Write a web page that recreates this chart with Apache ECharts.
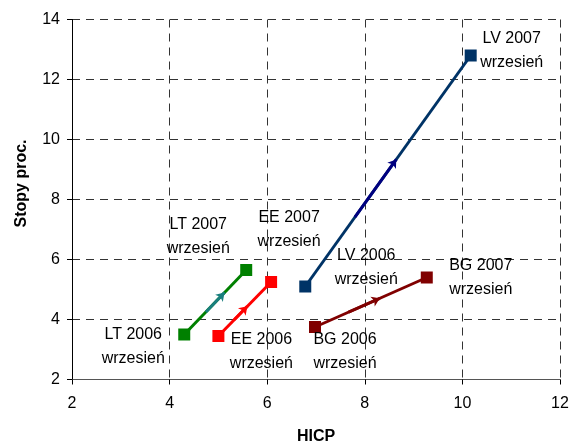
<!DOCTYPE html>
<html><head><meta charset="utf-8">
<script src="https://cdn.jsdelivr.net/npm/echarts@6/dist/echarts.min.js"></script>
<style>html,body{margin:0;padding:0;background:#fff}#c{width:569px;height:444px}</style>
</head><body><div id="c"></div>
<script>
// Data
const countries = ['LT', 'EE', 'LV', 'BG'];
const hicp2006 = [4.30, 5.00, 6.78, 6.98];
const rate2006 = [3.50, 3.45, 5.10, 3.75];
const hicp2007 = [5.57, 6.08, 10.17, 9.27];
const rate2007 = [5.65, 5.25, 12.80, 5.40];
const pointLabels2006 = ['LT 2006\nwrzesień', 'EE 2006\nwrzesień', 'LV 2006\nwrzesień', 'BG 2006\nwrzesień'];
const pointLabels2007 = ['LT 2007\nwrzesień', 'EE 2007\nwrzesień', 'LV 2007\nwrzesień', 'BG 2007\nwrzesień'];
const xTicks = [2, 4, 6, 8, 10, 12];
const yTicks = [2, 4, 6, 8, 10, 12, 14];

// Styles
const colors = ['#008000', '#FF0000', '#003366', '#800000'];
const arrowColors = ['#1a7f7f', '#FF0000', '#000080', '#800000'];
const arrowFrac = [[0.35, 0.65], [0.3, 0.55], [0.3, 0.55], [0.3, 0.58]];
const lab06 = [[-51, 12], [43, 16], [61, -19], [30, 25]];
const lab07 = [[-48, -33], [18, -52], [41, -5], [54, 0]];
const font = 'Liberation Sans, Arial, sans-serif';

const series = [];
countries.forEach((c, i) => {
  series.push({
    type: 'line',
    name: c,
    data: [
      {value: [hicp2006[i], rate2006[i]], label: {show: true, formatter: pointLabels2006[i], offset: lab06[i]}},
      {value: [hicp2007[i], rate2007[i]], label: {show: true, formatter: pointLabels2007[i], offset: lab07[i]}}
    ],
    symbol: 'rect', symbolSize: 12,
    itemStyle: {color: colors[i]},
    lineStyle: {color: colors[i], width: 3},
    label: {position: 'inside', color: '#000', fontFamily: font, fontSize: 16, lineHeight: 24},
    z: 3
  });
  const fx0 = hicp2006[i] + (hicp2007[i] - hicp2006[i]) * arrowFrac[i][0];
  const fy0 = rate2006[i] + (rate2007[i] - rate2006[i]) * arrowFrac[i][0];
  const fx1 = hicp2006[i] + (hicp2007[i] - hicp2006[i]) * arrowFrac[i][1];
  const fy1 = rate2006[i] + (rate2007[i] - rate2006[i]) * arrowFrac[i][1];
  series.push({
    type: 'lines', coordinateSystem: 'cartesian2d',
    symbol: ['none', 'arrow'], symbolSize: 8,
    lineStyle: {color: arrowColors[i], width: 3, opacity: 1},
    data: [{coords: [[fx0, fy0], [fx1, fy1]]}],
    z: 4, silent: true
  });
});

const chart = echarts.init(document.getElementById('c'));
chart.setOption({
  animation: false,
  grid: {left: 72, right: 9, top: 19.5, bottom: 64.5, containLabel: false, outerBoundsMode: 'none'},
  xAxis: {
    type: 'value', min: xTicks[0], max: xTicks[xTicks.length - 1], interval: 2,
    name: 'HICP', nameLocation: 'middle', nameGap: 49,
    nameTextStyle: {fontFamily: font, fontSize: 16, fontWeight: 'bold', color: '#000'},
    axisLine: {show: true, lineStyle: {color: '#555', width: 1}},
    axisTick: {show: true, inside: false, length: 5, lineStyle: {color: '#000'}},
    axisLabel: {fontFamily: font, fontSize: 16, color: '#000', margin: 16},
    splitLine: {show: true, lineStyle: {color: '#333', type: [8, 6], width: 1}}
  },
  yAxis: {
    type: 'value', min: yTicks[0], max: yTicks[yTicks.length - 1], interval: 2,
    name: 'Stopy proc.', nameLocation: 'middle', nameGap: 42, nameRotate: 90,
    nameTextStyle: {fontFamily: font, fontSize: 16, fontWeight: 'bold', color: '#000', padding: [0, 0, 0, 32]},
    axisLine: {show: true, lineStyle: {color: '#000', width: 1}},
    axisTick: {show: true, length: 5, lineStyle: {color: '#000'}},
    axisLabel: {fontFamily: font, fontSize: 16, color: '#000', margin: 12},
    splitLine: {show: true, lineStyle: {color: '#333', type: [8, 6], width: 1}}
  },
  series: series
});
</script></body></html>
